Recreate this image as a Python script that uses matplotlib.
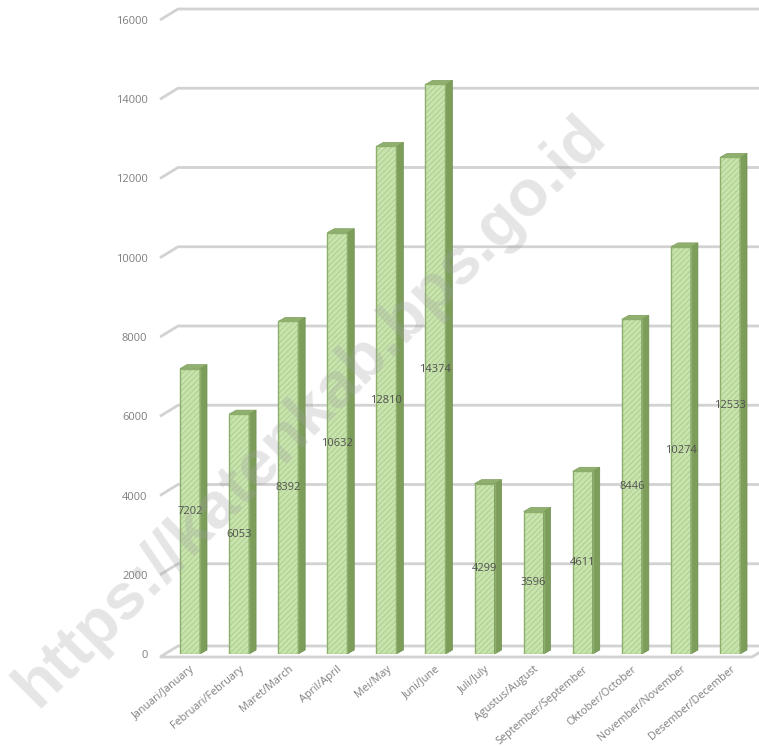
import numpy as np
import matplotlib
matplotlib.use('Agg')
import matplotlib.pyplot as plt
from matplotlib.patches import Polygon

# data
bulan = ['Januari/January', 'Februari/February', 'Maret/March', 'April/April',
         'Mei/May', 'Juni/June', 'Juli/July', 'Agustus/August',
         'September/September', 'Oktober/October', 'November/November',
         'Desember/December']
nilai = [7202, 6053, 8392, 10632, 12810, 14374, 4299, 3596, 4611, 8446, 10274, 12533]
yticks = [0, 2000, 4000, 6000, 8000, 10000, 12000, 14000, 16000]

W, H = 759, 746
fig = plt.figure(figsize=(W / 100, H / 100), dpi=100)
# front plane of the chart (pixels): x 160..752, y 20..654
ax = fig.add_axes([160 / W, 1 - 654 / H, (752 - 160) / W, (654 - 20) / H])
xmin, xmax = -0.611, 11.448
ax.set_xlim(xmin, xmax)
ax.set_ylim(0, 16000)
for s in ax.spines.values():
    s.set_visible(False)

# pixel offsets -> data units
px_x = (xmax - xmin) / (752 - 160)
px_y = 16000 / (654 - 20)
wall_dx, wall_dy = 18 * px_x, 11 * px_y
bar_dx, bar_dy = 7 * px_x, 4 * px_y
bw = 20 * px_x

grid_col = '#d2d2d2'
for v in yticks:
    if v == 0:
        continue
    ax.plot([xmin, xmin + wall_dx, xmax + 2], [v, v + wall_dy, v + wall_dy],
            color=grid_col, lw=2, zorder=1, clip_on=False, solid_capstyle='butt')

# floor
f0 = -3 * px_y
floor = Polygon([(xmin, f0), (xmax, f0), (xmax + wall_dx, f0 + wall_dy),
                 (xmin + wall_dx, f0 + wall_dy)], closed=True,
                facecolor='white', edgecolor=grid_col, lw=2, zorder=1.5, clip_on=False)
ax.add_patch(floor)

x = np.arange(len(nilai))
plt.rcParams['hatch.linewidth'] = 0.6
ax.bar(x, nilai, width=bw, color='#c8e4ad', edgecolor='#acca8f', hatch='//////',
       linewidth=0, zorder=3)
ax.bar(x, nilai, width=bw, facecolor='none', edgecolor='#8caf6c', linewidth=1, zorder=3.2)
for xi, v in zip(x, nilai):
    r = xi + bw / 2
    l = xi - bw / 2
    side = Polygon([(r, 0), (r + bar_dx, bar_dy), (r + bar_dx, v + bar_dy), (r, v)],
                   closed=True, facecolor='#7d9d5b', edgecolor='#6f8f50', lw=0.5, zorder=3)
    top = Polygon([(l, v), (r, v), (r + bar_dx, v + bar_dy), (l + bar_dx, v + bar_dy)],
                  closed=True, facecolor='#8fb06f', edgecolor='#7d9d5b', lw=0.5, zorder=3)
    ax.add_patch(side)
    ax.add_patch(top)
    ax.text(xi, v / 2, str(v), ha='center', va='center', fontsize=8,
            family='Open Sans', color='#505050', zorder=5)

ax.set_yticks(yticks)
ax.set_yticklabels([str(v) for v in yticks], family='Open Sans', fontsize=8, color='#7f7f7f')
ax.tick_params(axis='y', length=0, pad=9)
ax.set_xticks(x)
ax.set_xticklabels(bulan, rotation=40, ha='right', rotation_mode='anchor',
                   family='Open Sans', fontsize=7.8, color='#7f7f7f')
ax.tick_params(axis='x', length=0, pad=7)

# watermark
fig.text(311 / W, 1 - 412 / H, 'https://katenkab.bps.go.id', rotation=45,
         ha='center', va='center', family='Liberation Sans', fontweight='bold',
         fontsize=47, color='#a0a0a0', alpha=0.27, zorder=10)

fig.savefig('out.png', dpi=100)
